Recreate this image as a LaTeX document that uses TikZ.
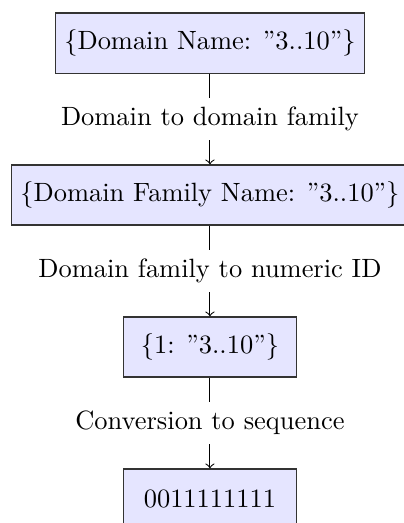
\documentclass[tikz,border=0pt]{standalone}
\usetikzlibrary{arrows}
\begin{document}
\begin{tikzpicture}[
  box/.style={draw=black!80, fill=blue!10, line width=0.5pt, minimum height=0.8cm, minimum width=2.3cm},
  lbl/.style={inner sep=0.3333em},
  conn/.style={line width=0.4pt}
]
\useasboundingbox (-79.4pt,16.3pt) rectangle (73.3pt,-181.5pt);
\node[box] (b1) at (0,0) {\{Domain Name: "3..10"\}};
\node[lbl] (l1) at (0,-1.01) {Domain to domain family};
\node[box] (b2) at (0,-2.02) {\{Domain Family Name: "3..10"\}};
\node[lbl] (l2) at (0,-3.03) {Domain family to numeric ID};
\node[box] (b3) at (0,-4.04) {\{1: "3..10"\}};
\node[lbl] (l3) at (0,-5.05) {Conversion to sequence};
\node[box] (b4) at (0,-6.06) {0011111111};
\draw[conn] (b1) -- (l1);
\draw[conn,->] (l1) -- (b2);
\draw[conn] (b2) -- (l2);
\draw[conn,->] (l2) -- (b3);
\draw[conn] (b3) -- (l3);
\draw[conn,->] (l3) -- (b4);
\end{tikzpicture}
\end{document}
